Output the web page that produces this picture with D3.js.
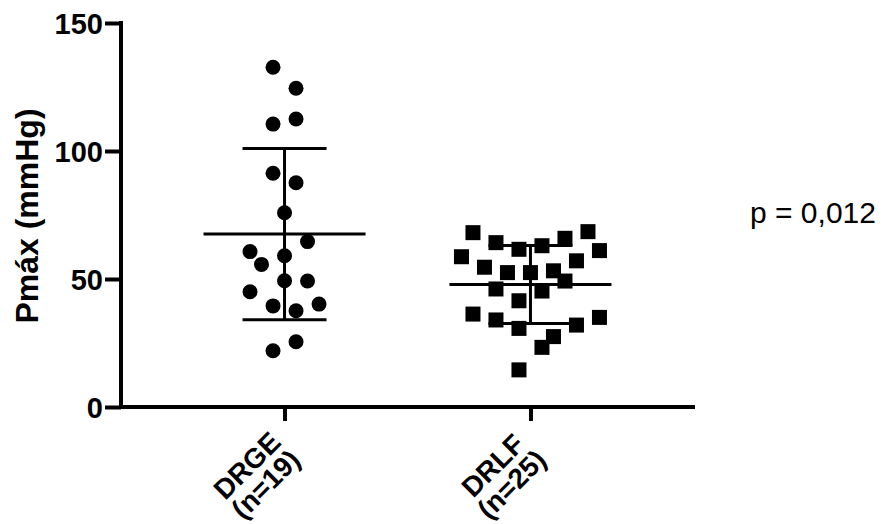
<!DOCTYPE html>
<html>
<head>
<meta charset="utf-8">
<script src="https://cdn.jsdelivr.net/npm/d3@7"></script>
<style>
  html, body { margin: 0; padding: 0; background: #fff; }
  svg { display: block; }
  text { font-family: "Liberation Sans", Arial, Helvetica, sans-serif; }
</style>
</head>
<body>
<svg id="chart" width="883" height="524"></svg>
<script>
// ---- data ----
const categories = ["DRGE", "DRLF"];
const categoryLabels = [["DRGE", "(n=19)"], ["DRLF", "(n=25)"]];
const drgeValues = [132.7, 124.5, 112.5, 110.5, 91.3, 87.6, 75.9, 64.6, 60.7, 59.1, 55.7, 49.3, 49.2, 45.0, 40.2, 39.5, 37.6, 25.5, 22.0];
const drgeColumn = [-1, 1, 1, -1, -1, 1, 0, 2, -3, 0, -2, 0, 2, -3, 3, -1, 1, 1, -1];
const drlfValues = [68.1, 68.5, 65.9, 64.2, 63.0, 61.6, 61.1, 58.7, 57.1, 54.6, 52.5, 52.5, 53.2, 49.2, 46.1, 45.3, 41.5, 36.3, 35.0, 34.0, 30.7, 32.0, 27.5, 23.3, 14.5];
const drlfColumn = [-5, 5, 3, -3, 1, -1, 6, -6, 4, -4, -2, 0, 2, 3, -3, 1, -1, -5, 6, -3, -1, 4, 2, 1, -1];
const yTicks = [0, 50, 100, 150];
const yTitle = "Pmáx (mmHg)";
const pText = "p = 0,012";

// ---- layout ----
const svg = d3.select("#chart");
const x = d3.scalePoint().domain(categories).range([120, 695]).padding(0.669);
const y = d3.scaleLinear().domain([0, 150]).range([407, 23]);
const colStep = 11.5;

const series = [
  { cat: "DRGE", values: drgeValues, cols: drgeColumn, shape: "circle" },
  { cat: "DRLF", values: drlfValues, cols: drlfColumn, shape: "square" }
];

// points
series.forEach(s => {
  const g = svg.append("g");
  const pts = s.values.map((v, i) => ({ v, c: s.cols[i] }));
  if (s.shape === "circle") {
    g.selectAll("circle").data(pts).join("circle")
      .attr("cx", d => x(s.cat) + d.c * colStep)
      .attr("cy", d => y(d.v))
      .attr("r", 7.5)
      .attr("fill", "#000");
  } else {
    const side = 15;
    g.selectAll("rect").data(pts).join("rect")
      .attr("x", d => x(s.cat) + d.c * colStep - side / 2)
      .attr("y", d => y(d.v) - side / 2)
      .attr("width", side).attr("height", side)
      .attr("fill", "#000");
  }
});

// mean and SD lines
series.forEach(s => {
  const m = d3.mean(s.values);
  const sd = d3.deviation(s.values);
  const cx = x(s.cat);
  const g = svg.append("g").attr("stroke", "#000").attr("stroke-width", 3).attr("fill", "none");
  g.append("line").attr("x1", cx - 81).attr("x2", cx + 81).attr("y1", y(m)).attr("y2", y(m));
  g.append("line").attr("x1", cx).attr("x2", cx).attr("y1", y(m + sd)).attr("y2", y(m - sd));
  g.append("line").attr("x1", cx - 42).attr("x2", cx + 42).attr("y1", y(m + sd)).attr("y2", y(m + sd));
  g.append("line").attr("x1", cx - 42).attr("x2", cx + 42).attr("y1", y(m - sd)).attr("y2", y(m - sd));
});

// y axis
const yAxis = svg.append("g").attr("transform", "translate(121,0)")
  .call(d3.axisLeft(y).tickValues(yTicks).tickSize(16).tickSizeOuter(0).tickPadding(2));
yAxis.select(".domain").attr("stroke-width", 4).attr("d", `M0,${y(150) - 2}V${y(0) + 2}`);
yAxis.selectAll(".tick line").attr("stroke-width", 4);
yAxis.selectAll(".tick text")
  .attr("font-family", "'Liberation Sans', Arial, sans-serif")
  .attr("font-weight", "bold").attr("font-size", 29).attr("fill", "#000")
  .attr("dy", "0.36em");

// x axis
const xAxis = svg.append("g").attr("transform", "translate(0,407)")
  .call(d3.axisBottom(x).tickSize(14).tickSizeOuter(0).tickFormat(""));
xAxis.select(".domain").attr("stroke-width", 4).attr("d", "M119,0H695");
xAxis.selectAll(".tick line").attr("stroke-width", 4);

// x category labels (rotated, two lines)
categories.forEach((c, i) => {
  const g = svg.append("g").attr("transform", `translate(${x(c)},407) rotate(-45)`);
  categoryLabels[i].forEach((line, j) => {
    g.append("text")
      .attr("x", -68).attr("y", 24.5 + j * 26.5)
      .attr("text-anchor", "middle")
      .attr("font-weight", "bold").attr("font-size", 28)
      .attr("fill", "#000")
      .text(line);
  });
});

// y title
svg.append("text")
  .attr("transform", "translate(38,216) rotate(-90)")
  .attr("text-anchor", "middle")
  .attr("font-weight", "bold").attr("font-size", 32)
  .attr("fill", "#000")
  .text(yTitle);

// p-value
svg.append("text")
  .attr("x", 750).attr("y", 223)
  .attr("font-size", 30).attr("fill", "#000")
  .text(pText);
</script>
</body>
</html>
